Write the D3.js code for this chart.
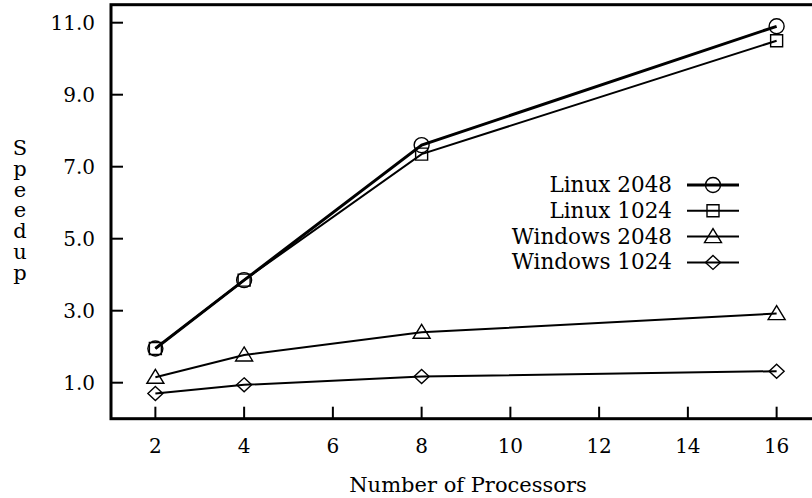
<!DOCTYPE html>
<html>
<head>
<meta charset="utf-8">
<script src="https://cdn.jsdelivr.net/npm/d3@7"></script>
<style>
  body { margin: 0; background: #fff; }
  svg text { font-family: "DejaVu Serif", serif; fill: #000; }
</style>
</head>
<body>
<svg id="main"></svg>
<script>
visuWidth = 812;
visuHeight = 498;

// data
processors = [2, 4, 8, 16];
linux2048 = [1.95, 3.85, 7.6, 10.9];
linux1024 = [1.95, 3.85, 7.35, 10.5];
windows2048 = [1.15, 1.77, 2.4, 2.92];
windows1024 = [0.7, 0.94, 1.17, 1.32];
seriesNames = ["Linux 2048", "Linux 1024", "Windows 2048", "Windows 1024"];
seriesMarks = ["circle", "square", "triangle", "diamond"];
xTicks = [2, 4, 6, 8, 10, 12, 14, 16];
yTicks = [1, 3, 5, 7, 9, 11];
yLabel = "Speedup";
xLabel = "Number of Processors";

drawChart();

function drawChart() {

    var series = [linux2048, linux1024, windows2048, windows1024].map(function (vals, i) {
        return {name: seriesNames[i], mark: seriesMarks[i], wide: i == 0,
            points: vals.map(function (v, j) { return {x: processors[j], y: v}; })};
    });

    var plotLeft = 111, plotRight = 821, plotTop = 4.7, plotBottom = 418.7;

    var x = d3.scaleLinear().domain([1, 17]).range([plotLeft, plotRight]);
    var y = d3.scaleLinear().domain([0, 11.5]).range([plotBottom, plotTop]);

    var svg = d3.select("svg#main").attr("width", visuWidth).attr("height", visuHeight);

    // open marker shapes, gnuplot style
    function markPath(kind) {
        var p = d3.path();
        if (kind == "circle") {
            p.moveTo(7.5, 0); p.arc(0, 0, 7.5, 0, 2 * Math.PI);
        } else if (kind == "square") {
            p.rect(-6, -6, 12, 12);
        } else if (kind == "triangle") {
            p.moveTo(0, -8); p.lineTo(8.5, 6); p.lineTo(-8.5, 6); p.closePath();
        } else {
            p.moveTo(0, -7); p.lineTo(7.5, 0); p.lineTo(0, 7); p.lineTo(-7.5, 0); p.closePath();
        }
        return p.toString();
    }

    // ticks point inward, no mirror
    svg.append("g").selectAll("line")
        .data(xTicks).enter().append("line")
        .attr("x1", function (d) { return x(d); }).attr("x2", function (d) { return x(d); })
        .attr("y1", plotBottom).attr("y2", plotBottom - 12)
        .style("stroke", "#000").style("stroke-width", 2);

    svg.append("g").selectAll("line")
        .data(yTicks).enter().append("line")
        .attr("x1", plotLeft).attr("x2", plotLeft + 12)
        .attr("y1", function (d) { return y(d); }).attr("y2", function (d) { return y(d); })
        .style("stroke", "#000").style("stroke-width", 2);

    svg.append("g").selectAll("text")
        .data(xTicks).enter().append("text")
        .attr("x", function (d) { return x(d); })
        .attr("y", 453)
        .attr("text-anchor", "middle")
        .style("font-size", "20px")
        .text(function (d) { return d; });

    svg.append("g").selectAll("text")
        .data(yTicks).enter().append("text")
        .attr("x", 95)
        .attr("y", function (d) { return y(d) + 7; })
        .attr("text-anchor", "end")
        .style("font-size", "20px")
        .text(d3.format(".1f"));

    // axis titles
    svg.append("text")
        .attr("x", 468)
        .attr("y", 492)
        .attr("text-anchor", "middle")
        .style("font-size", "21px")
        .text(xLabel);

    // gnuplot stacks the y label letter by letter
    svg.append("text")
        .attr("x", 20)
        .attr("y", 155)
        .attr("text-anchor", "middle")
        .style("font-size", "21px")
        .selectAll("tspan")
        .data(yLabel.split("")).enter().append("tspan")
        .attr("x", 20)
        .attr("dy", function (d, i) { return i ? 20.8 : 0; })
        .text(function (d) { return d; });

    // lines and points
    var line = d3.line().x(function (d) { return x(d.x); }).y(function (d) { return y(d.y); });

    var g = svg.append("g").selectAll("g.series")
        .data(series).enter().append("g").attr("class", "series");

    g.append("path")
        .attr("d", function (d) { return line(d.points); })
        .style("fill", "none").style("stroke", "#000")
        .style("stroke-width", function (d) { return d.wide ? 3 : 2; });

    g.selectAll("path.pt")
        .data(function (d) { return d.points.map(function (p) { return {x: p.x, y: p.y, mark: d.mark}; }); })
        .enter().append("path")
        .attr("class", "pt")
        .attr("transform", function (d) { return "translate(" + x(d.x) + "," + y(d.y) + ")"; })
        .attr("d", function (d) { return markPath(d.mark); })
        .style("fill", "none").style("stroke", "#000").style("stroke-width", 1.4);

    // legend
    var leg = svg.append("g").selectAll("g.leg")
        .data(series).enter().append("g")
        .attr("transform", function (d, i) { return "translate(0," + (185 + i * 25.8) + ")"; });

    leg.append("text")
        .attr("x", 672).attr("y", 7)
        .attr("text-anchor", "end")
        .style("font-size", "21.5px")
        .text(function (d) { return d.name; });

    leg.append("line")
        .attr("x1", 687).attr("x2", 739)
        .style("stroke", "#000")
        .style("stroke-width", function (d) { return d.wide ? 3 : 2; });

    leg.append("path")
        .attr("transform", "translate(713,0)")
        .attr("d", function (d) { return markPath(d.mark); })
        .style("fill", "none").style("stroke", "#000").style("stroke-width", 1.4);

    // frame on top
    svg.append("rect")
        .attr("x", plotLeft).attr("y", plotTop)
        .attr("width", plotRight - plotLeft).attr("height", plotBottom - plotTop)
        .style("fill", "none").style("stroke", "#000").style("stroke-width", 3);
}
</script>
</body>
</html>
